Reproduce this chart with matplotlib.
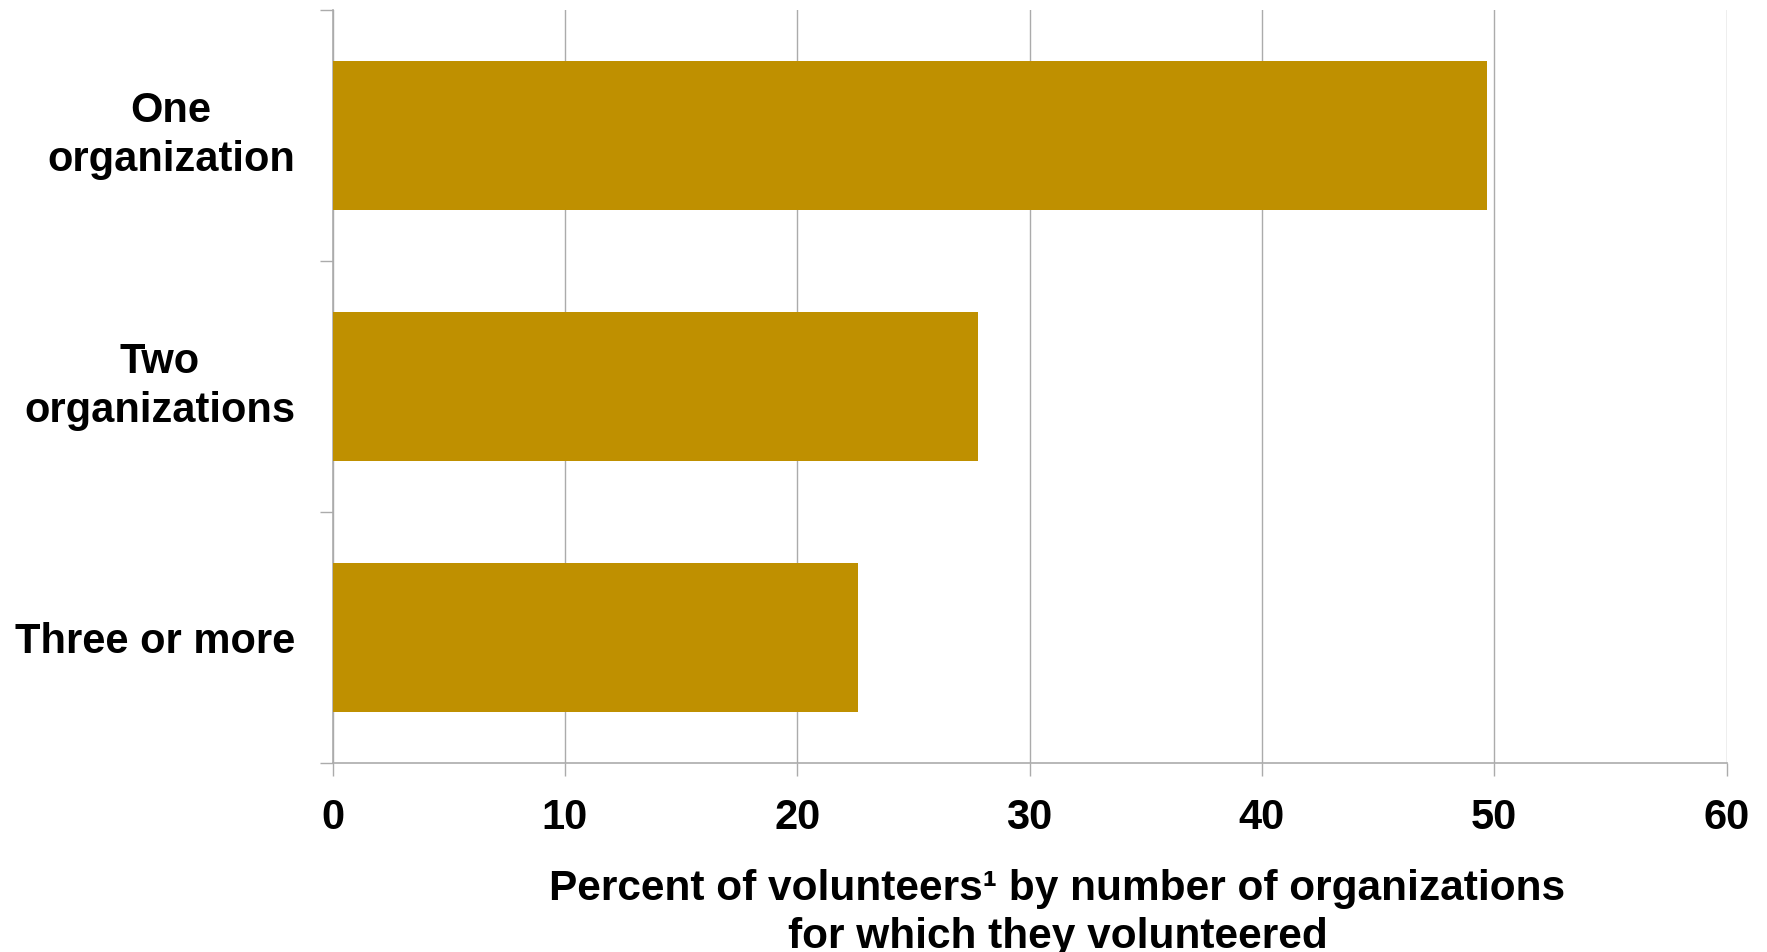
import numpy as np
import matplotlib.pyplot as plt
from matplotlib.ticker import FixedLocator

# Share of volunteers by number of organizations served
categories = ["One\norganization", "Two\norganizations", "Three or more"]
percent = [49.7, 27.8, 22.6]
x_ticks = [0, 10, 20, 30, 40, 50, 60]

bar_color = "#BF9000"
axis_gray = "#ABABAB"

plt.rcParams["font.family"] = ["Liberation Sans", "DejaVu Sans"]
plt.rcParams["font.weight"] = "bold"

fig = plt.figure(figsize=(17.67, 9.52), dpi=100)
ax = fig.add_axes([0.1882, 0.1985, 0.7889, 0.791])

y = np.arange(len(categories))
ax.barh(y, percent, height=0.59, color=bar_color, zorder=3)

ax.set_ylim(len(categories) - 0.5, -0.5)
ax.set_xlim(0, 60)
ax.set_xticks(x_ticks)
ax.set_yticks(y)
ax.set_yticklabels(categories, fontsize=30, fontweight="bold", ha="right",
                   multialignment="center", linespacing=1.3)
for lbl in ax.get_yticklabels():
    if "\n" in lbl.get_text():
        lbl.set_verticalalignment("center")
ax.yaxis.set_minor_locator(FixedLocator(np.arange(-0.5, len(categories), 1.0)))

ax.tick_params(axis="y", which="major", length=0, pad=27)
ax.tick_params(axis="y", which="minor", length=9.5, width=1, color=axis_gray)
ax.tick_params(axis="x", which="major", length=9.5, width=1, color=axis_gray,
               labelsize=30, pad=16)
for lbl in ax.get_xticklabels():
    lbl.set_fontweight("bold")

ax.grid(axis="x", color=axis_gray, linewidth=1, zorder=0)
for side in ("top", "right"):
    ax.spines[side].set_visible(False)
for side in ("left", "bottom"):
    ax.spines[side].set_color(axis_gray)
    ax.spines[side].set_linewidth(1.2)

ax.set_xlabel("Percent of volunteers\u00b9 by number of organizations\nfor which they volunteered",
              fontsize=30.5, fontweight="bold", labelpad=22, x=0.52, linespacing=1.25)

fig.savefig("out.png", dpi=100)
